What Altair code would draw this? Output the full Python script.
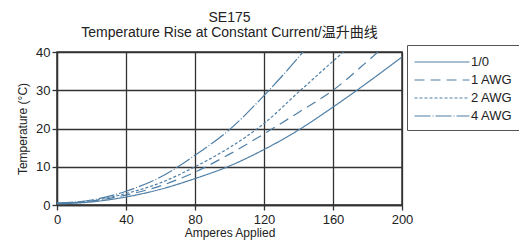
import altair as alt
import pandas as pd

# Data
series_names = ["1/0", "1 AWG", "2 AWG", "4 AWG"]

amps_1_0 = [0, 20, 40, 60, 80, 100, 120, 140, 160, 180, 200]
temp_1_0 = [0.3, 0.8, 2.1, 4.1, 6.9, 10.2, 14.5, 19.6, 25.6, 32.0, 38.7]

amps_1awg = [0, 20, 40, 60, 80, 100, 120, 140, 160, 180, 190]
temp_1awg = [0.4, 1.0, 2.6, 5.0, 8.6, 13.3, 18.6, 24.2, 30.0, 37.6, 41.6]

amps_2awg = [0, 20, 40, 60, 80, 100, 120, 140, 160, 170]
temp_2awg = [0.5, 1.1, 3.0, 5.8, 10.0, 15.0, 21.3, 29.5, 37.6, 41.6]

amps_4awg = [0, 20, 40, 60, 80, 100, 120, 140, 150]
temp_4awg = [0.5, 1.3, 3.6, 7.3, 13.0, 19.7, 28.6, 38.6, 44.0]

x_ticks = [0, 40, 80, 120, 160, 200]
y_ticks = [0, 10, 20, 30, 40]

rows = []
for name, xs, ys in [("1/0", amps_1_0, temp_1_0), ("1 AWG", amps_1awg, temp_1awg),
                     ("2 AWG", amps_2awg, temp_2awg), ("4 AWG", amps_4awg, temp_4awg)]:
    for a, t in zip(xs, ys):
        rows.append({"amps": a, "temp": t, "series": name})
df = pd.DataFrame(rows)

FONT = "Liberation Sans, Arial, Noto Sans CJK SC"
LINE = "#4f7fa6"
GRID = "#333333"

chart = alt.Chart(df).mark_line(
    color=LINE, strokeWidth=1.2, interpolate="monotone", clip=True
).encode(
    x=alt.X("amps:Q", title="Amperes Applied",
            scale=alt.Scale(domain=[0, 200], nice=False),
            axis=alt.Axis(values=x_ticks, grid=True, labelFlush=False)),
    y=alt.Y("temp:Q", title="Temperature (°C)",
            scale=alt.Scale(domain=[0, 40], nice=False),
            axis=alt.Axis(values=y_ticks, grid=True, labelFlush=False)),
    strokeDash=alt.StrokeDash(
        "series:N",
        scale=alt.Scale(domain=series_names,
                        range=[[1, 0], [10, 6], [3, 2], [16, 2, 1, 2]]),
        legend=alt.Legend(
            title=None, orient="none", legendX=350, legendY=-7,
            symbolType="M-3,0H3", symbolSize=336, symbolStrokeWidth=1.2,
            symbolStrokeColor=LINE, symbolFillColor="transparent",
            symbolOffset=18, labelOffset=19,
            labelFontSize=13, labelFont=FONT,
            labelColor="#222", rowPadding=1,
            strokeColor="#555", padding=7,
        ),
    ),
    detail="series:N",
).properties(
    width=345, height=153,
    autosize=alt.AutoSizeParams(type="none"),
    padding={"left": 49, "top": 44, "right": 117, "bottom": 36},
    title=alt.TitleParams(
        text="SE175",
        subtitle="Temperature Rise at Constant Current/温升曲线",
        anchor="middle", font=FONT, subtitleFont=FONT,
        fontSize=14, fontWeight="normal", subtitleFontSize=14,
        color="#222", subtitleColor="#222", offset=5, subtitlePadding=1,
    ),
).configure_view(
    stroke=GRID, strokeWidth=1.5
).configure_axis(
    gridColor=GRID, gridWidth=1.3, gridOpacity=1,
    domainColor=GRID, domainWidth=1.3,
    tickColor=GRID, tickSize=5, tickWidth=1.3,
    labelFont=FONT, labelFontSize=13, labelColor="#222",
    titleFont=FONT, titleFontSize=12, titleFontWeight="normal", titleColor="#222",
).configure_axisY(
    titlePadding=6, labelPadding=2
).configure_axisX(
    titlePadding=1, labelPadding=3
)

chart.save("out.html", embed_options={"renderer": "svg", "actions": False})
